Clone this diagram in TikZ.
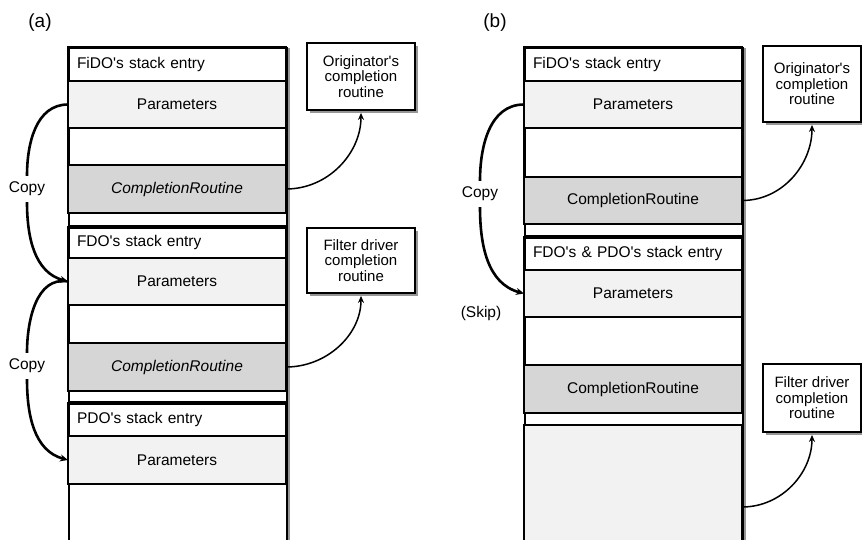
\documentclass[tikz,border=0pt]{standalone}
\usepackage{fontspec}
\setmainfont{Liberation Sans}
\usetikzlibrary{arrows.meta,shadows}
\definecolor{parfill}{RGB}{242,242,242}
\definecolor{crfill}{RGB}{214,214,214}
\definecolor{shade}{RGB}{150,150,150}
\newcommand{\qs}{\textquotesingle}
\tikzset{
slot/.style={draw,line width=1.8pt,anchor=north west,minimum width=218pt,inner sep=0pt,outer sep=0pt,font=\fontsize{15.5}{17}\selectfont},
entry/.style={slot,text width=200pt,inner xsep=9pt,align=left},
param/.style={slot,fill=parfill},
routine/.style={slot,fill=crfill},
stack/.style={draw,line width=1.8pt,fill=white,anchor=north west,minimum width=218pt,minimum height=540pt,inner sep=0pt,drop shadow={shadow xshift=3pt,shadow yshift=0pt,fill=shade,opacity=1}},
cbox/.style={draw,line width=1.8pt,fill=white,align=center,inner sep=0pt,font=\fontsize{15}{15.5}\selectfont,drop shadow={shadow xshift=3pt,shadow yshift=-3pt,fill=shade,opacity=1}},
callback/.style={line width=1.5pt,shorten >=2pt,-{Stealth[length=7pt,width=6pt]}},
copyline/.style={line width=2.6pt},
copyarrow/.style={copyline,-{Stealth[length=8pt,width=7pt]}},
tag/.style={font=\fontsize{15.5}{17}\selectfont,inner sep=6pt},
caption/.style={font=\fontsize{19}{21}\selectfont},
divider/.style={line width=4pt}
}
\begin{document}
\begin{tikzpicture}[x=1pt,y=-1pt]
\useasboundingbox (0,0) rectangle (862,539);
\clip (0,0) rectangle (862,539);
\node[caption] (capA) at (40,23) {(a)};
\node[caption] (capB) at (495,23) {(b)};
\node[stack] (colA) at (68,47) {};
\node[entry,minimum height=34pt] (fidoA) at (68,47) {FiDO\qs s stack entry};
\node[param,minimum height=47pt] (parA1) at (68,81) {Parameters};
\node[slot,minimum height=37pt] (freeA1) at (68,128) {};
\node[routine,minimum height=48pt] (crA1) at (68,165) {\itshape CompletionRoutine};
\node[entry,minimum height=31pt] (fdoA) at (68,227) {FDO\qs s stack entry};
\node[param,minimum height=47pt] (parA2) at (68,258) {Parameters};
\node[slot,minimum height=38pt] (freeA2) at (68,305) {};
\node[routine,minimum height=48pt] (crA2) at (68,343) {\itshape CompletionRoutine};
\node[entry,minimum height=33pt] (pdoA) at (68,403) {PDO\qs s stack entry};
\node[param,minimum height=48pt] (parA3) at (68,436) {Parameters};
\draw[divider] (fdoA.north west) -- (fdoA.north east);
\draw[divider] (pdoA.north west) -- (pdoA.north east);
\node[cbox,minimum width=108pt,minimum height=67pt] (origA) at (361,76.5) {Originator\qs s\\completion\\routine};
\node[cbox,minimum width=108pt,minimum height=65pt] (filtA) at (361,260.5) {Filter driver\\completion\\routine};
\draw[callback] (crA1.east) to[out=0,in=-90] (origA.south);
\draw[callback] (crA2.east) to[out=0,in=-90] (filtA.south);
\node[tag] (copyA1) at (27,189) {Copy};
\node[tag] (copyA2) at (27,366) {Copy};
\draw[copyline] (parA1.west) to[out=180,in=90] (copyA1.north);
\draw[copyarrow] (copyA1.south) to[out=-90,in=165] (parA2.west);
\draw[copyline] (parA2.west) to[out=170,in=90] (copyA2.north);
\draw[copyarrow] (copyA2.south) to[out=-90,in=165] (parA3.west);
\node[stack] (colB) at (524,47) {};
\node[entry,minimum height=34pt] (fidoB) at (524,47) {FiDO\qs s stack entry};
\node[param,minimum height=47pt] (parB1) at (524,81) {Parameters};
\node[slot,minimum height=49pt] (freeB1) at (524,128) {};
\node[routine,minimum height=47pt] (crB1) at (524,177) {CompletionRoutine};
\node[entry,minimum height=33pt] (fpdoB) at (524,237) {FDO\qs s \& PDO\qs s stack entry};
\node[param,minimum height=47pt] (parB2) at (524,270) {Parameters};
\node[slot,minimum height=48pt] (freeB2) at (524,317) {};
\node[routine,minimum height=48pt] (crB2) at (524,365) {CompletionRoutine};
\node[param,minimum height=164pt] (restB) at (524,425) {};
\draw[divider] (fpdoB.north west) -- (fpdoB.north east);
\node[cbox,minimum width=98pt,minimum height=76pt] (origB) at (812,84) {Originator\qs s\\completion\\routine};
\node[cbox,minimum width=98pt,minimum height=68pt] (filtB) at (812,398) {Filter driver\\completion\\routine};
\draw[callback] (crB1.east) to[out=0,in=-90] (origB.south);
\draw[callback] (restB.east) to[out=0,in=-90] (filtB.south);
\node[tag] (copyB) at (480,194) {Copy};
\node[tag] (skipB) at (481,313) {(Skip)};
\draw[copyline] (parB1.west) to[out=180,in=90] (copyB.north);
\draw[copyarrow] (copyB.south) to[out=-90,in=165] (parB2.west);
\end{tikzpicture}
\end{document}
